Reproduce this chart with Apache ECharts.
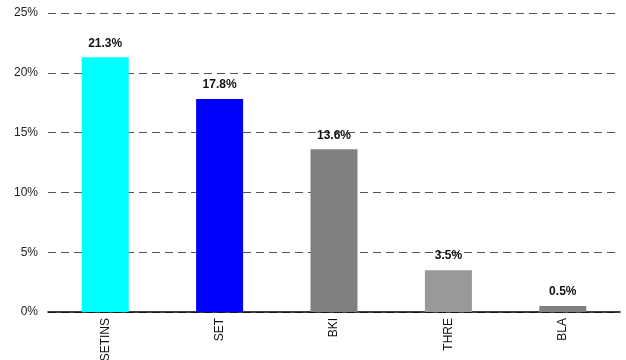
<!DOCTYPE html>
<html><head><meta charset="utf-8">
<script src="https://cdn.jsdelivr.net/npm/echarts@6/dist/echarts.min.js"></script>
<style>html,body{margin:0;padding:0;background:#fff}#c{width:626px;height:360px}</style>
</head><body><div id="c"></div>
<script>
var categories = ['SETINS', 'SET', 'BKI', 'THRE', 'BLA'];
var values = [21.3, 17.8, 13.6, 3.5, 0.5];
var colors = ['#00FFFF', '#0000FF', '#808080', '#999999', '#808080'];
var yTicks = [0, 5, 10, 15, 20, 25];

var chart = echarts.init(document.getElementById('c'), null, {renderer: 'canvas'});
chart.setOption({
  animation: false,
  grid: {left: 48, right: 6, top: 13, bottom: 48, containLabel: false, outerBoundsMode: 'none'},
  xAxis: {
    type: 'category',
    data: categories,
    axisLine: {lineStyle: {color: '#000', width: 1.5}},
    axisTick: {show: false},
    axisLabel: {rotate: 90, color: '#111', fontFamily: 'Liberation Sans, Arial', fontSize: 12, margin: 6}
  },
  yAxis: {
    type: 'value',
    min: yTicks[0], max: yTicks[yTicks.length - 1], interval: 5,
    axisLine: {show: false},
    axisTick: {show: false},
    axisLabel: {formatter: '{value}%', color: '#222', fontFamily: 'Liberation Sans, Arial', fontSize: 12, margin: 10},
    splitLine: {lineStyle: {type: [8, 5], color: '#555', width: 1}}
  },
  series: [{
    type: 'bar',
    barWidth: 47,
    data: values.map(function (v, i) { return {value: v, itemStyle: {color: colors[i]}}; }),
    label: {
      show: true, position: 'top', distance: 8,
      formatter: function (p) { return p.value.toFixed(1) + '%'; },
      fontFamily: 'Liberation Sans, Arial', fontWeight: 'bold', fontSize: 12, color: '#111'
    }
  }]
});
</script></body></html>
